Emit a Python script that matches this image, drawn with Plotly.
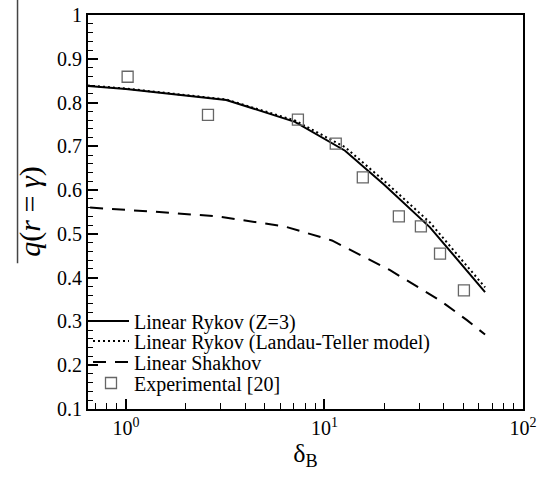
import plotly.graph_objects as go

# Data
rykov_z3_x = [0.644, 1.0, 3.2, 7.1, 12.7, 20.0, 34.0, 64.4]
rykov_z3_y = [0.838, 0.831, 0.806, 0.756, 0.690, 0.612, 0.515, 0.367]

rykov_lt_x = [0.644, 1.0, 3.2, 7.1, 12.7, 20.0, 34.0, 64.4]
rykov_lt_y = [0.839, 0.832, 0.807, 0.759, 0.698, 0.621, 0.526, 0.378]

shakhov_x = [0.66, 0.8, 1.35, 2.9, 6.3, 10.9, 21.4, 38.2, 52.2, 64.4]
shakhov_y = [0.560, 0.558, 0.551, 0.540, 0.517, 0.485, 0.417, 0.348, 0.303, 0.270]

exp_x = [1.02, 2.59, 7.35, 11.4, 15.6, 23.7, 30.6, 38.2, 50.4]
exp_y = [0.859, 0.772, 0.761, 0.706, 0.629, 0.540, 0.517, 0.455, 0.371]

x_major = [1, 10, 100]
x_major_text = ["10<sup>0</sup>", "10<sup>1</sup>", "10<sup>2</sup>"]
x_minor = [0.7, 0.8, 0.9, 2, 3, 4, 5, 6, 7, 8, 9, 20, 30, 40, 50, 60, 70, 80, 90]
y_major = [0.1, 0.2, 0.3, 0.4, 0.5, 0.6, 0.7, 0.8, 0.9, 1.0]
y_major_text = ["0.1", "0.2", "0.3", "0.4", "0.5", "0.6", "0.7", "0.8", "0.9", "1"]
y_title = "<i>q</i>(<i>r</i> = <i>γ</i>)"

FONT = "Liberation Serif"

fig = go.Figure()
fig.add_trace(go.Scatter(x=rykov_z3_x, y=rykov_z3_y, mode="lines",
                         name="Linear Rykov (Z=3)", legend="legend",
                         line=dict(color="black", width=2)))
fig.add_trace(go.Scatter(x=rykov_lt_x, y=rykov_lt_y, mode="lines",
                         name="Linear Rykov (Landau-Teller model)", legend="legend2",
                         line=dict(color="black", width=2, dash="2px,3px")))
fig.add_trace(go.Scatter(x=shakhov_x, y=shakhov_y, mode="lines",
                         name="Linear Shakhov", legend="legend3",
                         line=dict(color="black", width=2, dash="13px,9px")))
fig.add_trace(go.Scatter(x=exp_x, y=exp_y, mode="markers",
                         name="Experimental [20]", legend="legend4",
                         marker=dict(symbol="square-open", size=11,
                                     color="#666666", line=dict(width=1.3))))

def leg(y):
    return dict(x=0.0, y=y, xanchor="left", yanchor="middle",
                bgcolor="rgba(0,0,0,0)",
                font=dict(size=20, family=FONT, color="black"),
                itemwidth=36)

fig.update_layout(
    width=538, height=483,
    margin=dict(l=88, r=15, t=15, b=74, autoexpand=False),
    paper_bgcolor="white", plot_bgcolor="white",
    font=dict(family=FONT, color="black", size=18),
    showlegend=True,
    legend=leg(0.2234),
    legend2=leg(0.1726),
    legend3=leg(0.1193),
    legend4=leg(0.066),
    xaxis=dict(
        type="log", range=[-0.191, 2.0], automargin=False,
        tickmode="array", tickvals=x_major, ticktext=x_major_text,
        ticks="inside", ticklen=10, tickwidth=1.5, tickcolor="black",
        showline=True, linecolor="black", linewidth=2, mirror=True,
        showgrid=False, zeroline=False,
        tickfont=dict(size=20, family=FONT),
        minor=dict(tickmode="array", tickvals=x_minor, ticks="inside",
                   ticklen=6, tickwidth=1, tickcolor="black", showgrid=False),
        title=dict(text="δ<sub>B</sub>", font=dict(size=26, family=FONT), standoff=4),
    ),
    yaxis=dict(
        range=[0.1, 1.0], automargin=False,
        tickmode="array", tickvals=y_major, ticktext=y_major_text,
        ticks="inside", ticklen=10, tickwidth=1.5, tickcolor="black",
        showline=True, linecolor="black", linewidth=2, mirror=True,
        showgrid=False, zeroline=False,
        tickfont=dict(size=20, family=FONT),
        minor=dict(dtick=0.02, tick0=0.1, ticks="inside", ticklen=5,
                   tickwidth=1, tickcolor="black", showgrid=False),
    ),
    annotations=[dict(text=y_title, textangle=-90, xref="paper", yref="paper",
                      x=-0.134, y=0.5, xanchor="center", yanchor="middle",
                      showarrow=False, font=dict(size=30, family=FONT, color="black"))],
)

# overbar of the y-axis title
fig.add_shape(type="line", xref="paper", yref="paper",
              x0=-0.162, x1=-0.162, y0=0.37, y1=1.04,
              line=dict(color="#444444", width=1.5))

fig.write_html("out.html")
